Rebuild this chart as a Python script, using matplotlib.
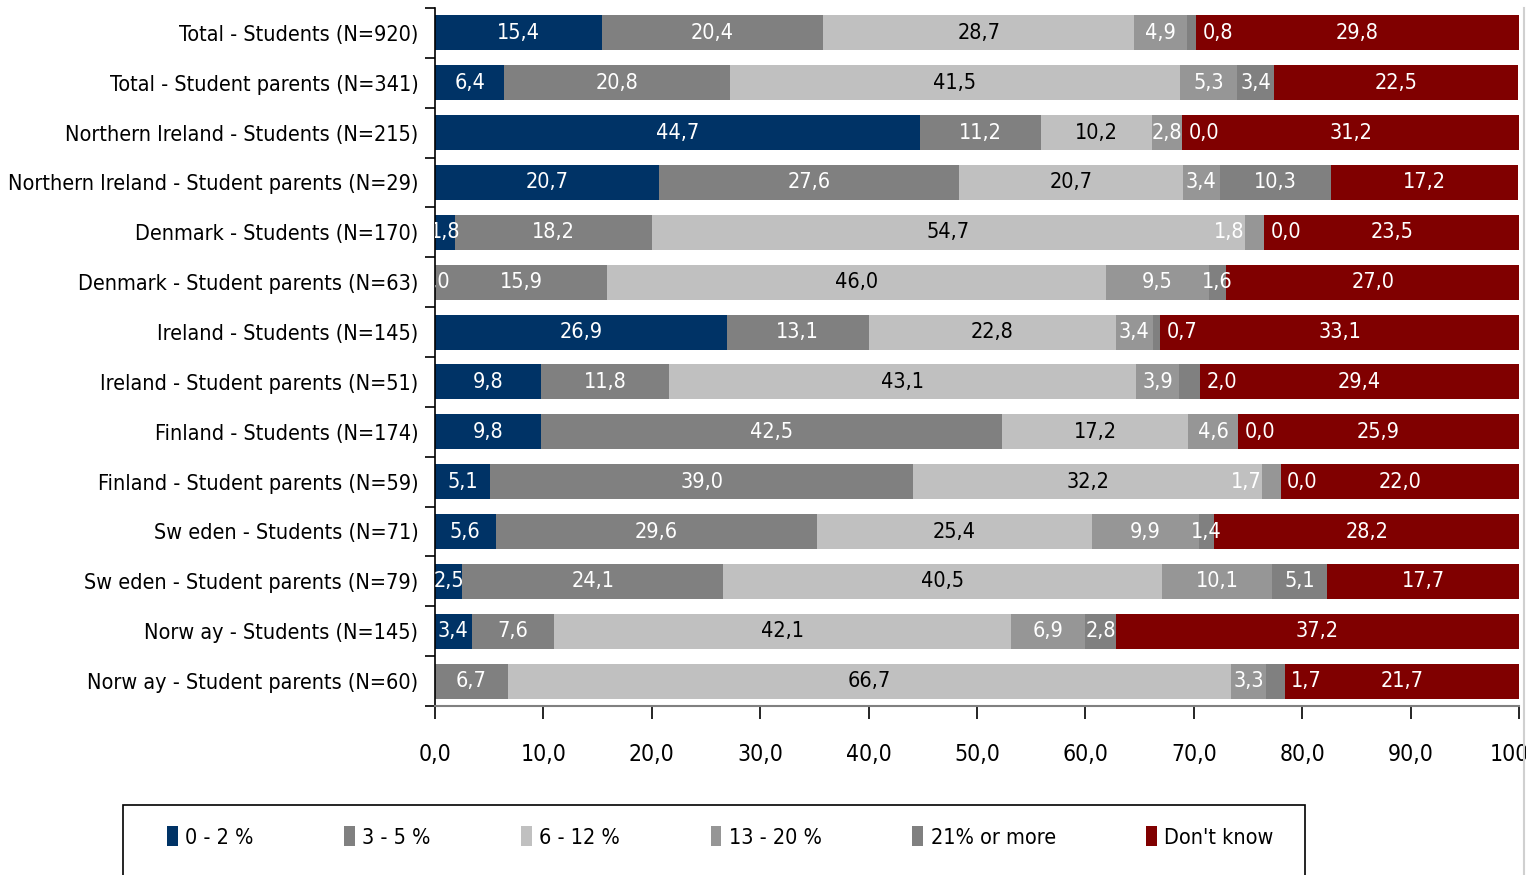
import matplotlib.pyplot as plt
from matplotlib import font_manager
from matplotlib.patches import Rectangle
from matplotlib.lines import Line2D
import numpy as np

# the original uses a narrow font; pick the narrowest one we have
fonts = {(f.name, f.stretch) for f in font_manager.fontManager.ttflist}
if any(n == "Liberation Sans Narrow" for n, _ in fonts):
    plt.rcParams['font.family'] = ['Liberation Sans Narrow', 'DejaVu Sans']
    fs = 19
elif ("DejaVu Sans", "condensed") in fonts:
    plt.rcParams['font.family'] = ['DejaVu Sans']
    plt.rcParams['font.stretch'] = 'condensed'
    fs = 15.5
else:
    plt.rcParams['font.family'] = ['Liberation Sans', 'DejaVu Sans']
    fs = 15

categories = [
    "Total - Students (N=920)",
    "Total - Student parents (N=341)",
    "Northern Ireland - Students (N=215)",
    "Northern Ireland - Student parents (N=29)",
    "Denmark - Students (N=170)",
    "Denmark - Student parents (N=63)",
    "Ireland - Students (N=145)",
    "Ireland - Student parents (N=51)",
    "Finland - Students (N=174)",
    "Finland - Student parents (N=59)",
    "Sw eden - Students (N=71)",
    "Sw eden - Student parents (N=79)",
    "Norw ay - Students (N=145)",
    "Norw ay - Student parents (N=60)",
]

series_names = ["0 - 2 %", "3 - 5 %", "6 - 12 %", "13 - 20 %", "21% or more", "Don't know"]

# None = no value shown
pct_0_2 = [15.4, 6.4, 44.7, 20.7, 1.8, 0.0, 26.9, 9.8, 9.8, 5.1, 5.6, 2.5, 3.4, None]
pct_3_5 = [20.4, 20.8, 11.2, 27.6, 18.2, 15.9, 13.1, 11.8, 42.5, 39.0, 29.6, 24.1, 7.6, 6.7]
pct_6_12 = [28.7, 41.5, 10.2, 20.7, 54.7, 46.0, 22.8, 43.1, 17.2, 32.2, 25.4, 40.5, 42.1, 66.7]
pct_13_20 = [4.9, 5.3, 2.8, 3.4, 1.8, 9.5, 3.4, 3.9, 4.6, 1.7, 9.9, 10.1, 6.9, 3.3]
pct_21_more = [0.8, 3.4, 0.0, 10.3, 0.0, 1.6, 0.7, 2.0, 0.0, 0.0, 1.4, 5.1, 2.8, 1.7]
dont_know = [29.8, 22.5, 31.2, 17.2, 23.5, 27.0, 33.1, 29.4, 25.9, 22.0, 28.2, 17.7, 37.2, 21.7]

colors = ["#003366", "#808080", "#C0C0C0", "#969696", "#808080", "#800000"]
text_colors = ["white", "white", "black", "white", "white", "white"]

all_series = [pct_0_2, pct_3_5, pct_6_12, pct_13_20, pct_21_more, dont_know]

fig = plt.figure(figsize=(15.26, 8.75), dpi=100)
ax = fig.add_axes([435 / 1526, 1 - 706 / 875, 1084 / 1526, 698 / 875])

y = np.arange(len(categories))
left = np.zeros(len(categories))
half_w = 1.4  # rough half width of a "0,0" label in data units

for s, (name, vals) in enumerate(zip(series_names, all_series)):
    widths = np.array([0.0 if v is None else v for v in vals])
    ax.barh(y, widths, left=left, height=0.7, color=colors[s], label=name)
    for i, v in enumerate(vals):
        if v is None:
            continue
        txt = f"{v:.1f}".replace(".", ",")
        x = left[i] + v / 2
        ha = "center"
        # small segments: Excel-style label nudging
        if s == 3 and v < 2:
            x = left[i]
            ha = "right"
        elif s == 4 and v < 3:
            prev_end = left[i] - pct_13_20[i] / 2 + half_w
            if x - half_w < prev_end + 0.3:
                x = left[i] + v + 0.6
                ha = "left"
        ax.text(x, i, txt, ha=ha, va="center", color=text_colors[s],
                fontsize=fs, clip_on=True)
    left += widths

ax.set_xlim(0, 100)
ax.set_ylim(len(categories) - 0.5, -0.5)

ax.set_xticks(np.arange(0, 101, 10))
ax.set_xticklabels([f"{t:.1f}".replace(".", ",") for t in np.arange(0, 101, 10)],
                   fontsize=fs + 1)
ax.tick_params(axis="x", direction="out", length=9, width=1.2, pad=18, color="black")

ax.set_yticks(y)
ax.set_yticklabels(categories, fontsize=fs)
ax.tick_params(axis="y", which="major", length=0, pad=12)
ax.set_yticks(np.arange(-0.5, len(categories), 1), minor=True)
ax.tick_params(axis="y", which="minor", length=7, width=1.2, color="black")

for sp in ["top", "right"]:
    ax.spines[sp].set_visible(False)
ax.spines["left"].set_color("black")
ax.spines["left"].set_linewidth(1.2)
ax.spines["bottom"].set_color("#808080")
ax.spines["bottom"].set_linewidth(1.5)

# light border line at the right edge of the chart area
fig.lines.append(Line2D([1524 / 1526, 1524 / 1526], [0, 1 - 8 / 875],
                        transform=fig.transFigure, color="#D0D0D0", linewidth=1.5))

# legend box (runs off the bottom edge like the original)
fig.patches.append(Rectangle((123 / 1526, -0.05), 1182 / 1526, 0.05 + 70 / 875,
                             transform=fig.transFigure, fill=False,
                             edgecolor="black", linewidth=1.2))
handles, labels = ax.get_legend_handles_labels()
fig.legend(handles, labels, loc="center left", ncol=6,
           bbox_to_anchor=(167 / 1526, 1 - 837 / 875), frameon=False,
           fontsize=fs, handlelength=0.5, handleheight=1.0,
           handletextpad=0.35, columnspacing=4.2, borderpad=0, borderaxespad=0)

fig.savefig("out.png", dpi=100)
